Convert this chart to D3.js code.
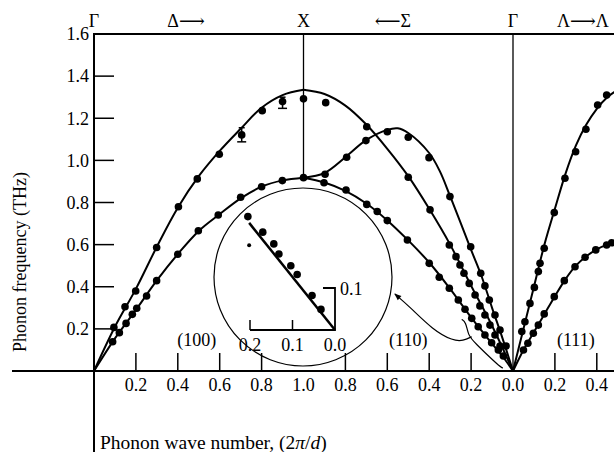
<!DOCTYPE html>
<html>
<head>
<meta charset="utf-8">
<script src="https://cdn.jsdelivr.net/npm/d3@7"></script>
<style>
  body { margin: 0; background: #fff; }
  svg text { font-family: "Liberation Serif", "DejaVu Serif", serif; fill: #000; }
</style>
</head>
<body>
<div id="graph"></div>
<script>
// path coordinate s: 0..1 is Γ→X (Δ), 1..2 is X→Γ (Σ), 2.. is Γ→L (Λ)
var xTicks = [0.2, 0.4, 0.6, 0.8, 1.0, 1.2, 1.4, 1.6, 1.8, 2.0, 2.2, 2.4];
var xTickLabels = ["0.2", "0.4", "0.6", "0.8", "1.0", "0.8", "0.6", "0.4", "0.2", "0.0", "0.2", "0.4"];
var yTicks = [0.2, 0.4, 0.6, 0.8, 1.0, 1.2, 1.4, 1.6];

// theory curves
var deltaUpper = [[0,0],[0.1,0.21],[0.2,0.39],[0.3,0.59],[0.4,0.775],[0.5,0.925],[0.6,1.045],[0.7,1.15],[0.8,1.25],[0.9,1.31],[1.0,1.335]];
var deltaLower = [[0,0],[0.1,0.155],[0.2,0.29],[0.3,0.43],[0.4,0.555],[0.5,0.665],[0.6,0.745],[0.7,0.82],[0.8,0.875],[0.9,0.905],[1.0,0.918]];
var sigmaUpper = [[1.0,1.335],[1.1,1.315],[1.2,1.26],[1.3,1.17],[1.4,1.055],[1.5,0.925],[1.6,0.77],[1.7,0.6],[1.8,0.405],[1.9,0.215],[2.0,0]];
var sigmaHump = [[1.0,0.918],[1.1,0.94],[1.2,1.015],[1.3,1.097],[1.4,1.145],[1.45,1.152],[1.5,1.13],[1.6,1.035],[1.65,0.95],[1.7,0.83],[1.8,0.575],[1.85,0.45],[1.9,0.3],[1.95,0.155],[2.0,0]];
var sigmaLower = [[1.0,0.918],[1.1,0.895],[1.2,0.855],[1.3,0.795],[1.4,0.715],[1.5,0.62],[1.6,0.515],[1.7,0.39],[1.8,0.255],[1.9,0.13],[1.95,0.07],[2.0,0]];
var lambdaUpper = [[2.0,0],[2.05,0.2],[2.1,0.4],[2.15,0.6],[2.2,0.77],[2.25,0.935],[2.3,1.07],[2.35,1.17],[2.4,1.245],[2.45,1.3],[2.5,1.335]];
var lambdaLower = [[2.0,0],[2.05,0.1],[2.1,0.185],[2.15,0.27],[2.2,0.355],[2.25,0.435],[2.3,0.5],[2.35,0.545],[2.4,0.578],[2.45,0.6],[2.5,0.615]];

// measured points
var deltaUpperPts = [[0.095,0.207],[0.148,0.305],[0.199,0.38],[0.299,0.586],[0.403,0.78],[0.493,0.912],[0.598,1.029],[0.705,1.121],[0.803,1.236],[0.9,1.279],[1.0,1.292]];
var deltaLowerPts = [[0.089,0.139],[0.121,0.182],[0.153,0.226],[0.183,0.269],[0.204,0.298],[0.251,0.356],[0.299,0.429],[0.40,0.554],[0.498,0.666],[0.593,0.741],[0.70,0.825],[0.80,0.875],[0.899,0.904],[1.0,0.918]];
var sigmaUpperPts = [[1.106,1.274],[1.302,1.16],[1.50,0.92],[1.604,0.765],[1.696,0.598],[1.728,0.543],[1.747,0.503],[1.766,0.464],[1.791,0.416],[1.819,0.361],[1.842,0.309],[1.866,0.266],[1.89,0.218],[1.914,0.171],[1.938,0.119]];
var sigmaHumpPts = [[1.103,0.934],[1.206,1.015],[1.298,1.094],[1.40,1.136],[1.50,1.11],[1.599,1.013],[1.699,0.828],[1.798,0.59],[1.846,0.464],[1.866,0.404],[1.887,0.337],[1.914,0.266],[1.938,0.195],[1.967,0.119]];
var sigmaLowerPts = [[1.098,0.894],[1.203,0.859],[1.302,0.791],[1.352,0.757],[1.40,0.714],[1.496,0.622],[1.60,0.511],[1.648,0.445],[1.696,0.393],[1.739,0.337],[1.771,0.293],[1.803,0.25],[1.834,0.21],[1.866,0.171],[1.898,0.134],[1.93,0.10],[1.954,0.071]];
var lambdaUpperPts = [[2.042,0.187],[2.057,0.234],[2.081,0.321],[2.102,0.397],[2.121,0.472],[2.129,0.511],[2.149,0.583],[2.197,0.752],[2.248,0.915],[2.299,1.041],[2.348,1.148],[2.404,1.263],[2.447,1.31]];
var lambdaLowerPts = [[2.05,0.10],[2.071,0.132],[2.097,0.179],[2.121,0.218],[2.149,0.271],[2.197,0.353],[2.245,0.429],[2.296,0.495],[2.344,0.54],[2.395,0.575],[2.447,0.598],[2.471,0.609]];

// error bars [s, low, high]
var errBars = [[0.705,1.088,1.155],[0.9,1.247,1.30]];

// inset (enlarged view near the origin)
var insetLine = [[0,0],[0.202,0.255]];
var insetPts = [[0.205,0.27],[0.17,0.233],[0.144,0.205],[0.132,0.181],[0.104,0.153],[0.089,0.132],[0.054,0.082],[0.033,0.049]];
var insetSmallPts = [[0.202,0.202]];
var insetXTicks = [0.2, 0.1, 0.0];
var insetXLabels = ["0.2", "0.1", "0.0"];

// annotation: bracket on the Σ branch and arrow to the inset
var bracketPath = [[1.755,0.245],[1.775,0.233],[1.786,0.17],[1.813,0.138],[1.938,0.019],[1.952,0.014]];
var arrowPath = [[1.803,0.163],[1.762,0.143],[1.714,0.143],[1.618,0.195],[1.508,0.304],[1.436,0.366]];

var topLabels = [[0,"Γ"],[0.35,"Δ⟶"],[1.0,"X"],[1.34,"⟵Σ"],[2.0,"Γ"],[2.21,"Λ⟶Λ"]];
var dirLabels = [[0.49,"(100)"],[1.5,"(110)"],[2.3,"(111)"]];

var width = 614, height = 452;

var x = d3.scaleLinear().domain([0, 2]).range([94, 513]);
var y = d3.scaleLinear().domain([0, 1.6]).range([371, 34]);
var ix = d3.scaleLinear().domain([0, 0.2]).range([335, 250]);
var iy = d3.scaleLinear().domain([0, 0.1]).range([330, 288]);

var svg = d3.select("#graph").append("svg")
    .attr("width", width)
    .attr("height", height);

var line = d3.line()
    .x(function(d) { return x(d[0]); })
    .y(function(d) { return y(d[1]); })
    .curve(d3.curveCatmullRom);

// frame: top line, left axis, x axis
svg.append("line").attr("x1", x(0)).attr("x2", width).attr("y1", y(1.6)).attr("y2", y(1.6))
  .attr("stroke", "#000").attr("stroke-width", 2);
svg.append("line").attr("x1", x(0)).attr("x2", x(0)).attr("y1", y(1.6) - 1).attr("y2", height)
  .attr("stroke", "#000").attr("stroke-width", 2);
svg.append("line").attr("x1", 12).attr("x2", width).attr("y1", y(0)).attr("y2", y(0))
  .attr("stroke", "#000").attr("stroke-width", 2);

// symmetry point lines
svg.append("line").attr("x1", x(1)).attr("x2", x(1)).attr("y1", y(1.6)).attr("y2", y(0.918))
  .attr("stroke", "#000").attr("stroke-width", 1.3);
svg.append("line").attr("x1", x(2)).attr("x2", x(2)).attr("y1", y(1.6)).attr("y2", y(0))
  .attr("stroke", "#000").attr("stroke-width", 1.3);

// y ticks (inward) and labels
svg.selectAll(".ytick").data(yTicks.filter(function(d) { return d < 1.6; })).enter()
  .append("line").attr("class", "ytick")
  .attr("x1", x(0)).attr("x2", x(0) + 20)
  .attr("y1", function(d) { return y(d); }).attr("y2", function(d) { return y(d); })
  .attr("stroke", "#000").attr("stroke-width", 1.5);
svg.selectAll(".ylab").data(yTicks).enter()
  .append("text").attr("class", "ylab")
  .attr("x", x(0) - 5).attr("y", function(d) { return y(d); })
  .attr("dy", "0.35em").attr("text-anchor", "end")
  .style("font-size", "18px")
  .text(function(d) { return d.toFixed(1); });

// x ticks (upward) and labels
svg.selectAll(".xtick").data(xTicks.filter(function(d) { return d !== 1.0 && d !== 2.0; })).enter()
  .append("line").attr("class", "xtick")
  .attr("x1", function(d) { return x(d); }).attr("x2", function(d) { return x(d); })
  .attr("y1", y(0)).attr("y2", y(0) - 18)
  .attr("stroke", "#000").attr("stroke-width", 1.5);
svg.selectAll(".xlab").data(xTicks).enter()
  .append("text").attr("class", "xlab")
  .attr("x", function(d) { return x(d); }).attr("y", y(0) + 20)
  .attr("text-anchor", "middle")
  .style("font-size", "18px")
  .text(function(d, i) { return xTickLabels[i]; });

// top labels and direction labels
svg.selectAll(".toplab").data(topLabels).enter()
  .append("text").attr("class", "toplab")
  .attr("x", function(d) { return x(d[0]); }).attr("y", 27)
  .attr("text-anchor", function(d) { return d[1].length > 1 ? "start" : "middle"; })
  .style("font-size", "18px")
  .text(function(d) { return d[1]; });
svg.selectAll(".dirlab").data(dirLabels).enter()
  .append("text").attr("class", "dirlab")
  .attr("x", function(d) { return x(d[0]); }).attr("y", 346)
  .attr("text-anchor", "middle")
  .style("font-size", "18px")
  .text(function(d) { return d[1]; });

// axis titles
svg.append("text")
  .attr("transform", "translate(26," + 262 + ") rotate(-90)")
  .attr("text-anchor", "middle")
  .style("font-size", "18px")
  .text("Phonon frequency (THz)");
svg.append("text")
  .attr("x", x(0) + 6).attr("y", 449)
  .style("font-size", "19.5px")
  .html("Phonon wave number, (2<tspan font-style='italic'>π</tspan>/<tspan font-style='italic'>d</tspan>)");

// inset circle
svg.append("circle").attr("cx", 303).attr("cy", 277).attr("r", 89)
  .attr("fill", "none").attr("stroke", "#000").attr("stroke-width", 1.2);

// theory curves
[deltaUpper, deltaLower, sigmaUpper, sigmaHump, sigmaLower, lambdaUpper, lambdaLower].forEach(function(c) {
  svg.append("path").datum(c)
    .attr("d", line)
    .attr("fill", "none").attr("stroke", "#000").attr("stroke-width", 2);
});

// error bars
errBars.forEach(function(e) {
  var g = svg.append("g").attr("stroke", "#000").attr("stroke-width", 1.5);
  g.append("line").attr("x1", x(e[0])).attr("x2", x(e[0])).attr("y1", y(e[1])).attr("y2", y(e[2]));
  g.append("line").attr("x1", x(e[0]) - 4.5).attr("x2", x(e[0]) + 4.5).attr("y1", y(e[1])).attr("y2", y(e[1]));
  g.append("line").attr("x1", x(e[0]) - 3).attr("x2", x(e[0]) + 3).attr("y1", y(e[2])).attr("y2", y(e[2]));
});

// measured points
var allPts = [].concat(deltaUpperPts, deltaLowerPts, sigmaUpperPts, sigmaHumpPts, sigmaLowerPts, lambdaUpperPts, lambdaLowerPts);
svg.selectAll(".pt").data(allPts).enter()
  .append("circle").attr("class", "pt")
  .attr("cx", function(d) { return x(d[0]); })
  .attr("cy", function(d) { return y(d[1]); })
  .attr("r", 3.8).attr("fill", "#000");

// bracket and arrow
var annLine = d3.line()
  .x(function(d) { return x(d[0]); })
  .y(function(d) { return y(d[1]); })
  .curve(d3.curveBasis);
svg.append("defs").append("marker")
  .attr("id", "head").attr("viewBox", "0 0 10 10").attr("refX", 9).attr("refY", 5)
  .attr("markerWidth", 9).attr("markerHeight", 7).attr("orient", "auto")
  .attr("markerUnits", "userSpaceOnUse")
  .append("path").attr("d", "M0,1 L10,5 L0,9 Z").attr("fill", "#000");
svg.append("path").datum(bracketPath).attr("d", annLine)
  .attr("fill", "none").attr("stroke", "#000").attr("stroke-width", 1.2);
svg.append("path").datum(arrowPath).attr("d", annLine)
  .attr("fill", "none").attr("stroke", "#000").attr("stroke-width", 1.2)
  .attr("marker-end", "url(#head)");

// inset axes
var ig = svg.append("g");
ig.append("path")
  .attr("d", "M" + ix(0.2) + "," + iy(0) + "H" + ix(0) + "V" + iy(0.1) + "H" + (ix(0) - 12))
  .attr("fill", "none").attr("stroke", "#000").attr("stroke-width", 1.8);
ig.selectAll(".itick").data(insetXTicks.filter(function(d) { return d > 0; })).enter()
  .append("line").attr("class", "itick")
  .attr("x1", function(d) { return ix(d); }).attr("x2", function(d) { return ix(d); })
  .attr("y1", iy(0)).attr("y2", iy(0) - 10)
  .attr("stroke", "#000").attr("stroke-width", 1.5);
ig.selectAll(".ilab").data(insetXTicks).enter()
  .append("text").attr("class", "ilab")
  .attr("x", function(d) { return ix(d); }).attr("y", iy(0) + 21)
  .attr("text-anchor", "middle")
  .style("font-size", "18px")
  .text(function(d, i) { return insetXLabels[i]; });
ig.append("text").attr("x", ix(0) + 5).attr("y", iy(0.1) + 7)
  .style("font-size", "18px").text("0.1");
ig.append("path").datum(insetLine)
  .attr("d", d3.line().x(function(d) { return ix(d[0]); }).y(function(d) { return iy(d[1]); }))
  .attr("stroke", "#000").attr("stroke-width", 2.5);
ig.selectAll(".ipt").data(insetPts).enter()
  .append("circle").attr("class", "ipt")
  .attr("cx", function(d) { return ix(d[0]); })
  .attr("cy", function(d) { return iy(d[1]); })
  .attr("r", 3.8).attr("fill", "#000");
ig.selectAll(".ispt").data(insetSmallPts).enter()
  .append("circle").attr("class", "ispt")
  .attr("cx", function(d) { return ix(d[0]); })
  .attr("cy", function(d) { return iy(d[1]); })
  .attr("r", 2).attr("fill", "#000");
</script>
</body>
</html>
